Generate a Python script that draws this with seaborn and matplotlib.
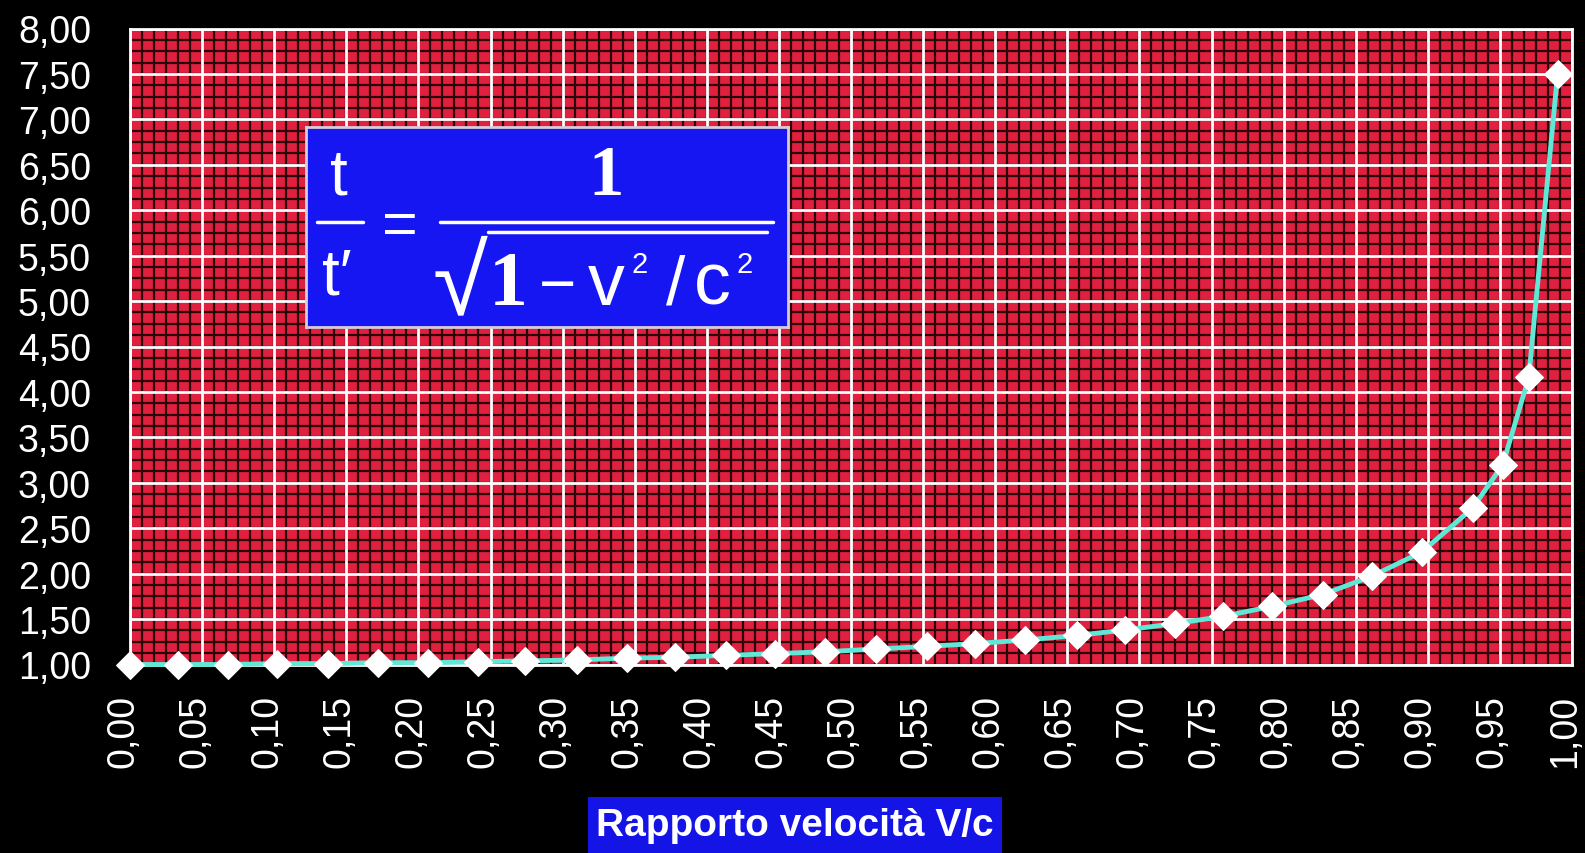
import matplotlib
matplotlib.use("Agg")
import numpy as np
import pandas as pd
import seaborn as sns
import matplotlib.pyplot as plt
import matplotlib.transforms as mtransforms
from matplotlib.ticker import FuncFormatter
from matplotlib.patches import Rectangle

# Speed ratio v/c and the corresponding time dilation factor t/t'
speed_ratio = [0.000, 0.033, 0.068, 0.102, 0.137, 0.172, 0.207, 0.241, 0.274,
               0.310, 0.345, 0.378, 0.413, 0.447, 0.482, 0.517, 0.553, 0.586,
               0.621, 0.657, 0.690, 0.725, 0.758, 0.792, 0.827,
               0.861, 0.896, 0.931, 0.952, 0.970, 0.990]
time_ratio = [1.00, 1.00, 1.00, 1.01, 1.01, 1.02, 1.02, 1.03, 1.04,
              1.05, 1.07, 1.08, 1.10, 1.12, 1.14, 1.17, 1.20, 1.23,
              1.27, 1.32, 1.38, 1.45, 1.53, 1.64, 1.77,
              1.97, 2.24, 2.72, 3.20, 4.16, 7.50]

x_ticks = [0.00, 0.05, 0.10, 0.15, 0.20, 0.25, 0.30, 0.35, 0.40, 0.45, 0.50,
           0.55, 0.60, 0.65, 0.70, 0.75, 0.80, 0.85, 0.90, 0.95, 1.00]
y_ticks = [1.00, 1.50, 2.00, 2.50, 3.00, 3.50, 4.00, 4.50, 5.00, 5.50, 6.00,
           6.50, 7.00, 7.50, 8.00]
x_label = "Rapporto velocità V/c"

df = pd.DataFrame({"v": speed_ratio, "g": time_ratio})

sns.set_style("dark")
plt.rcParams["font.family"] = ["Liberation Sans", "DejaVu Sans"]

W, H = 1585, 854
fig = plt.figure(figsize=(W / 100, H / 100), dpi=100, facecolor="black")

# plot area in pixel units
L, R, T, B = 130, 1572, 29.5, 665.5
ax = fig.add_axes([L / W, 1 - B / H, (R - L) / W, (B - T) / H])
ax.set_facecolor("#e0203e")
ax.set_xlim(0, 1)
ax.set_ylim(1, 8)

# fine dark cross pattern behind the white grid
minor_x = np.arange(0, 1.0001, 0.05 / 6)
minor_y = np.arange(1, 8.0001, 0.5 / 4)
ax.vlines(minor_x, 1, 8, colors="#2a0408", linewidth=1.6, zorder=0.2)
ax.hlines(minor_y, 0, 1, colors="#2a0408", linewidth=1.6, zorder=0.2)

ax.set_xticks(x_ticks)
ax.set_yticks(y_ticks)
ax.grid(True, which="major", color="white", linewidth=2.0)
ax.set_axisbelow(True)

fmt = FuncFormatter(lambda v, p: f"{v:.2f}".replace(".", ","))
ax.xaxis.set_major_formatter(fmt)
ax.yaxis.set_major_formatter(fmt)
ax.tick_params(axis="x", which="major", direction="out", length=8, width=2,
               color="white", labelcolor="white", labelsize=27, pad=13,
               labelrotation=90)
ax.tick_params(axis="y", which="major", direction="out", length=11, width=2,
               color="white", labelcolor="white", labelsize=27, pad=17)
shift = mtransforms.ScaledTranslation(-7 / 100, 0, fig.dpi_scale_trans)
for lab in ax.get_xticklabels():
    lab.set_transform(lab.get_transform() + shift)
for s in ax.spines.values():
    s.set_color("white")
    s.set_linewidth(2)

sns.lineplot(data=df, x="v", y="g", ax=ax, sort=False, color="#5fe8d6",
             linewidth=3.5, marker="D", markersize=14,
             markerfacecolor="white", markeredgecolor="white",
             clip_on=False, zorder=3)
ax.set_xlabel("")
ax.set_ylabel("")

# x-axis title on a blue band
fig.patches.append(Rectangle((588 / W, 0), 414 / W, 56 / H,
                             transform=fig.transFigure, facecolor="#1414e6",
                             edgecolor="none", zorder=1))
fig.text(795 / W, 1 - 826 / H, x_label, color="white", fontsize=28,
         fontweight="bold", ha="center", va="center", zorder=2)

# formula box
bx, by, bw, bh = 306, 128, 482, 200
fa = fig.add_axes([bx / W, 1 - (by + bh) / H, bw / W, bh / H])
fa.set_xlim(0, bw)
fa.set_ylim(bh, 0)
fa.set_facecolor("#1616f2")
fa.set_xticks([])
fa.set_yticks([])
for s in fa.spines.values():
    s.set_color("#d8ccd8")
    s.set_linewidth(2)

sans = ["Liberation Sans", "DejaVu Sans"]
serif = ["Liberation Serif", "DejaVu Serif"]
wc = "white"
fa.text(33, 67, "t", color=wc, fontsize=46, family=sans, ha="center", va="baseline")
fa.plot([11, 57], [95, 95], color=wc, lw=2.5)
fa.text(31, 167, "t\u2032", color=wc, fontsize=46, family=sans, ha="center", va="baseline")
fa.text(94, 116, "=", color=wc, fontsize=44, family=sans, ha="center", va="baseline")
fa.text(300, 67, "1", color=wc, fontsize=51, family=serif, fontweight="bold",
        ha="center", va="baseline")
fa.plot([134, 467], [95, 95], color=wc, lw=2.5)
fa.text(181, 186, "\u221a", color=wc, fontsize=72, family=sans, ha="right", va="baseline")
fa.plot([182, 461], [105, 105], color=wc, lw=2.5)
fa.text(202, 177, "1", color=wc, fontsize=56, family=serif, fontweight="bold",
        ha="center", va="baseline")
fa.text(251, 177, "\u2212", color=wc, fontsize=46, family=sans, ha="center", va="baseline")
fa.text(300, 177, "v", color=wc, fontsize=53, family=sans, ha="center", va="baseline")
fa.text(334, 145, "2", color=wc, fontsize=21, family=sans, ha="center", va="baseline")
fa.text(370, 177, "/", color=wc, fontsize=50, family=sans, ha="center", va="baseline")
fa.text(406, 177, "c", color=wc, fontsize=53, family=sans, ha="center", va="baseline")
fa.text(439, 145, "2", color=wc, fontsize=21, family=sans, ha="center", va="baseline")

fig.savefig("out.png", dpi=100, facecolor="black")
